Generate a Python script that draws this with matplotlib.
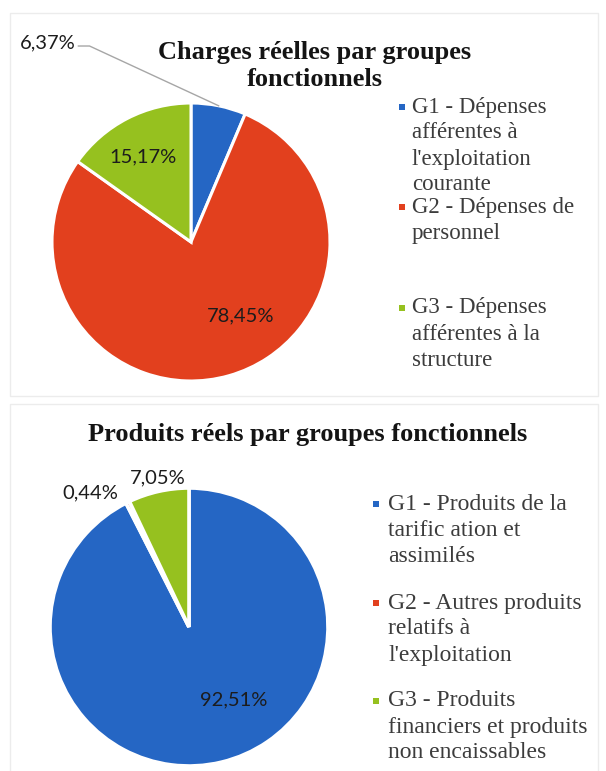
import matplotlib
matplotlib.use("Agg")
import matplotlib.pyplot as plt
import numpy as np
from matplotlib.patches import Rectangle
from matplotlib.lines import Line2D

# ---------------- data ----------------
charges_title = "Charges réelles par groupes\nfonctionnels"
charges_labels = [
    ["G1 - Dépenses", "afférentes à", "l'exploitation", "courante"],
    ["G2 - Dépenses de", "personnel"],
    ["G3 - Dépenses", "afférentes à la", "structure"],
]
charges_values = [6.37, 78.45, 15.17]

produits_title = "Produits réels par groupes fonctionnels"
produits_labels = [
    ["G1 - Produits de la", "tarific ation et", "assimilés"],
    ["G2 - Autres produits", "relatifs à", "l'exploitation"],
    ["G3 - Produits", "financiers et produits", "non encaissables"],
]
produits_values = [92.51, 0.44, 7.05]

colors = ["#2566C4", "#E2401E", "#96C11F"]

# ---------------- layout helpers ----------------
W, H = 606, 771
fig = plt.figure(figsize=(W / 100, H / 100), dpi=100)
fig.patch.set_facecolor("white")


def fx(x):
    return x / W


def fy(y):
    return 1 - y / H


def pct(v):
    return f"{v:.2f}%".replace(".", ",")


# faint panel frames
fig.add_artist(Rectangle((fx(10), fy(396)), fx(588), 383 / H, transform=fig.transFigure,
                         fill=False, edgecolor="#ececec", linewidth=1.0))
fig.add_artist(Rectangle((fx(10), fy(772)), fx(588), 368 / H, transform=fig.transFigure,
                         fill=False, edgecolor="#ececec", linewidth=1.0))

TITLE_FONT = dict(family="Liberation Serif", weight="bold", size=19, color="#141414")
LEG_FONT = dict(family="Liberation Serif", size=16.5, color="#3c3c3c")
LBL_FONT = dict(family="Lato", size=14.5, color="#1c1c1c")


def pie_axes(cx, cy, r):
    ax = fig.add_axes([fx(cx - r), fy(cy + r), 2 * r / W, 2 * r / H])
    return ax


def draw_pie(ax, values, lw=2.2):
    wedges, _ = ax.pie(values, colors=colors, startangle=90, counterclock=False,
                       wedgeprops=dict(edgecolor="white", linewidth=lw))
    ax.set_xlim(-1, 1)
    ax.set_ylim(-1, 1)
    ax.set_aspect("equal", adjustable="box")
    ax.axis("off")
    return wedges


def mid_angle(values, i):
    total = sum(values)
    start = 90 - 360 * sum(values[:i]) / total
    return np.deg2rad(start - 180 * values[i] / total)


def draw_legend(x_marker, x_text, y_starts, lines_list, spacing=26, fontsize=16.5):
    for col, y0, lines in zip(colors, y_starts, lines_list):
        s = 6
        fig.add_artist(Rectangle((fx(x_marker - s / 2), fy(y0 + s / 2)), s / W, s / H,
                                 transform=fig.transFigure, facecolor=col, edgecolor="none"))
        for k, line in enumerate(lines):
            fig.text(fx(x_text), fy(y0 + k * spacing), line, ha="left", va="center",
                     **{**LEG_FONT, "size": fontsize})


# ---------------- top chart ----------------
fig.text(fx(315), fy(52), charges_title.split("\n")[0], ha="center", va="center", **TITLE_FONT)
fig.text(fx(315), fy(80), charges_title.split("\n")[1], ha="center", va="center", **TITLE_FONT)

ax1 = pie_axes(191, 242, 139)
draw_pie(ax1, charges_values)
charges_label_pos = [(-1.03, 1.43), (0.36, -0.53), (-0.345, 0.61)]
for i, (v, (lx, ly)) in enumerate(zip(charges_values, charges_label_pos)):
    ax1.text(lx, ly, pct(v), ha="center", va="center", clip_on=False, **LBL_FONT)
# leader line for the small G1 slice
a = mid_angle(charges_values, 0)
ax1.add_line(Line2D([-0.81, -0.73, np.cos(a)], [1.41, 1.41, np.sin(a)],
                    color="#a6a6a6", linewidth=1.0, clip_on=False))

draw_legend(402, 412, [107, 207, 308], charges_labels)

# ---------------- bottom chart ----------------
fig.text(fx(308), fy(434), produits_title, ha="center", va="center", **TITLE_FONT)

ax2 = pie_axes(189, 627, 139)
draw_pie(ax2, produits_values, lw=2.6)
produits_label_pos = [(0.324, -0.525), (-0.712, 0.964), (-0.223, 1.072)]
for i, (v, (lx, ly)) in enumerate(zip(produits_values, produits_label_pos)):
    ax2.text(lx, ly, pct(v), ha="center", va="center", clip_on=False, **LBL_FONT)

draw_legend(376, 388, [504, 603, 701], produits_labels, fontsize=17)

fig.savefig("out.png", dpi=100, facecolor="white")
